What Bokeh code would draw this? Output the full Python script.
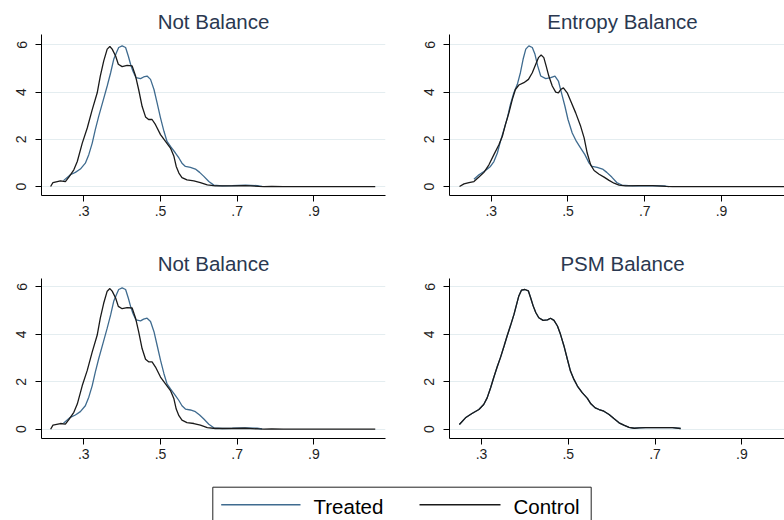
from bokeh.plotting import figure
from bokeh.models import Range1d, FixedTicker
from bokeh.core.properties import value
from bokeh.layouts import column, row
from bokeh.embed import file_html
from bokeh.resources import INLINE

FONT = "Liberation Sans"
TREATED_COLOR = "#3f6b8f"
CONTROL_COLOR = "#1a1a1a"
TITLE_COLOR = "#2a3850"
LABEL_COLOR = "#1e1e1e"
GRID_COLOR = "#e4edf0"

# ---- ticks / labels ----
y_ticks = [0, 2, 4, 6]
x_ticks = [0.3, 0.5, 0.7, 0.9]
x_tick_labels = [".3", ".5", ".7", ".9"]
titles = ["Not Balance", "Entropy Balance", "Not Balance", "PSM Balance"]
legend_labels = ["Treated", "Control"]

# ---- Not Balance: treated ----
nb_treated_x = [0.247, 0.265, 0.278, 0.291, 0.304, 0.313, 0.322, 0.330, 0.339, 0.350,
                0.361, 0.370, 0.378, 0.385, 0.391, 0.400, 0.409, 0.416, 0.422, 0.428,
                0.436, 0.448, 0.456, 0.465, 0.474, 0.483, 0.491, 0.500, 0.509, 0.517,
                0.526, 0.539, 0.548, 0.556, 0.565, 0.578, 0.591, 0.602, 0.613, 0.626,
                0.639, 0.661, 0.687, 0.722, 0.752, 0.765]
nb_treated_y = [0.25, 0.50, 0.60, 0.74, 0.99, 1.35, 1.84, 2.41, 2.98, 3.62,
                4.26, 4.82, 5.39, 5.67, 5.89, 5.96, 5.89, 5.53, 5.18, 4.89,
                4.61, 4.57, 4.64, 4.68, 4.54, 4.11, 3.55, 2.91, 2.34, 1.91,
                1.70, 1.42, 1.21, 0.99, 0.85, 0.81, 0.74, 0.60, 0.43, 0.21,
                0.06, 0.03, 0.04, 0.06, 0.04, 0.01]

# ---- Not Balance: control ----
nb_control_x = [0.2135, 0.2196, 0.239, 0.252, 0.261, 0.274, 0.283, 0.296, 0.309, 0.322,
                0.335, 0.343, 0.352, 0.361, 0.368, 0.374, 0.383, 0.390, 0.400, 0.413,
                0.426, 0.435, 0.443, 0.452, 0.461, 0.469, 0.478, 0.487, 0.500, 0.513,
                0.526, 0.535, 0.541, 0.548, 0.556, 0.569, 0.587, 0.604, 0.622, 0.643,
                0.687, 0.720, 0.756, 0.770, 0.790, 0.820, 1.060]
nb_control_y = [0.00, 0.17, 0.24, 0.21, 0.40, 0.71, 1.06, 1.84, 2.48, 3.26,
                3.97, 4.68, 5.32, 5.82, 5.93, 5.82, 5.53, 5.18, 5.08, 5.13,
                5.11, 4.68, 4.11, 3.40, 2.95, 2.84, 2.84, 2.62, 2.20, 1.91,
                1.63, 1.28, 0.85, 0.57, 0.38, 0.28, 0.24, 0.17, 0.07, 0.03,
                0.03, 0.04, 0.01, 0.00, 0.01, 0.00, 0.00]

# ---- Entropy Balance: treated ----
eb_treated_x = [0.255, 0.268, 0.285, 0.298, 0.307, 0.316, 0.324, 0.333, 0.342, 0.350,
                0.359, 0.368, 0.376, 0.383, 0.390, 0.398, 0.407, 0.414, 0.421, 0.429,
                0.442, 0.455, 0.466, 0.475, 0.483, 0.492, 0.500, 0.511, 0.522, 0.533,
                0.544, 0.555, 0.563, 0.576, 0.590, 0.601, 0.614, 0.627, 0.640, 0.668,
                0.720, 0.750, 0.763]
eb_treated_y = [0.31, 0.50, 0.68, 0.85, 1.06, 1.42, 1.91, 2.41, 2.91, 3.48,
                3.97, 4.33, 4.82, 5.39, 5.82, 5.96, 5.89, 5.60, 5.11, 4.68,
                4.57, 4.61, 4.68, 4.47, 3.97, 3.40, 2.84, 2.27, 1.91, 1.63,
                1.35, 0.99, 0.85, 0.81, 0.74, 0.60, 0.40, 0.17, 0.06, 0.03,
                0.04, 0.03, 0.00]

# ---- Entropy Balance: control ----
eb_control_x = [0.2174, 0.229, 0.242, 0.255, 0.268, 0.281, 0.294, 0.307, 0.320, 0.329,
                0.337, 0.346, 0.355, 0.363, 0.372, 0.385, 0.397, 0.407, 0.416, 0.423,
                0.430, 0.437, 0.443, 0.450, 0.459, 0.468, 0.475, 0.481, 0.488, 0.498,
                0.507, 0.520, 0.533, 0.542, 0.550, 0.559, 0.568, 0.581, 0.594, 0.607,
                0.620, 0.633, 0.650, 0.685, 0.720, 0.755, 0.772, 1.064]
eb_control_y = [0.00, 0.11, 0.17, 0.21, 0.40, 0.60, 0.92, 1.35, 1.77, 2.13,
                2.62, 3.12, 3.69, 4.11, 4.30, 4.40, 4.54, 4.82, 5.18, 5.46,
                5.57, 5.46, 5.11, 4.68, 4.26, 4.00, 3.97, 4.11, 4.18, 3.97,
                3.62, 3.12, 2.55, 2.06, 1.42, 0.92, 0.68, 0.52, 0.40, 0.26,
                0.14, 0.06, 0.03, 0.04, 0.04, 0.01, 0.00, 0.00]

# ---- PSM Balance: treated and control coincide ----
psm_x = [0.249, 0.263, 0.278, 0.294, 0.305, 0.313, 0.321, 0.328, 0.336, 0.344,
         0.352, 0.359, 0.367, 0.375, 0.381, 0.386, 0.392, 0.400, 0.408, 0.413,
         0.419, 0.425, 0.432, 0.442, 0.452, 0.459, 0.467, 0.475, 0.482, 0.490,
         0.498, 0.505, 0.513, 0.521, 0.532, 0.544, 0.552, 0.562, 0.571, 0.582,
         0.594, 0.605, 0.617, 0.628, 0.640, 0.652, 0.663, 0.678, 0.709, 0.740,
         0.759]
psm_treated_y = [0.20, 0.48, 0.66, 0.83, 1.04, 1.32, 1.75, 2.17, 2.62, 3.04,
                 3.51, 3.93, 4.38, 4.85, 5.27, 5.62, 5.86, 5.89, 5.83, 5.55,
                 5.20, 4.92, 4.70, 4.59, 4.61, 4.68, 4.59, 4.35, 4.00, 3.51,
                 2.94, 2.45, 2.10, 1.82, 1.54, 1.30, 1.07, 0.90, 0.83, 0.76,
                 0.62, 0.45, 0.27, 0.17, 0.08, 0.04, 0.06, 0.07, 0.07, 0.07,
                 0.03]
psm_control_y = list(psm_treated_y)


def strip(height):
    """A blank canvas whose data units are its own pixels (for titles / legend)."""
    s = figure(width=784, height=height, x_range=Range1d(0, 784),
               y_range=Range1d(0, height), output_backend="svg",
               toolbar_location=None, min_border=0,
               x_axis_location=None, y_axis_location=None)
    s.outline_line_color = None
    s.grid.visible = False
    s.background_fill_color = "white"
    s.border_fill_color = "white"
    return s


def title_strip(height, texts, centers, y):
    s = strip(height)
    s.text(x=centers, y=[y] * len(texts), text=texts,
           text_font=value(FONT), text_font_size="20.5px",
           text_align="center", text_baseline="middle", text_color=TITLE_COLOR)
    return s


def make_panel(xr, yr, width, height, bl, br, bb):
    p = figure(width=width, height=height,
               x_range=Range1d(*xr), y_range=Range1d(*yr),
               output_backend="svg", toolbar_location=None,
               min_border_left=bl, min_border_right=br,
               min_border_top=0, min_border_bottom=bb)
    p.outline_line_color = None
    p.background_fill_color = "white"
    p.border_fill_color = "white"
    p.xgrid.visible = False
    p.ygrid.ticker = FixedTicker(ticks=y_ticks)
    p.ygrid.grid_line_color = GRID_COLOR
    p.ygrid.grid_line_width = 1
    p.xaxis.ticker = FixedTicker(ticks=x_ticks)
    p.xaxis.major_label_overrides = dict(zip(x_ticks, x_tick_labels))
    p.yaxis.ticker = FixedTicker(ticks=y_ticks)
    p.yaxis.major_label_orientation = "vertical"
    for ax in (p.xaxis[0], p.yaxis[0]):
        ax.axis_line_color = "black"
        ax.axis_line_width = 1
        ax.major_tick_line_color = "black"
        ax.minor_tick_line_color = None
        ax.major_tick_out = 6
        ax.major_tick_in = 0
        ax.major_label_text_font = FONT
        ax.major_label_text_font_size = "14px"
        ax.major_label_text_color = LABEL_COLOR
    p.xaxis.major_label_standoff = 4
    p.yaxis.major_label_standoff = 9
    return p


def add_curves(p, tx, ty, cx, cy):
    p.line(tx, ty, line_color=TREATED_COLOR, line_width=1.3)
    p.line(cx, cy, line_color=CONTROL_COLOR, line_width=1.3)


# ---- top row ----
t1 = title_strip(34, [titles[0], titles[1]], [213, 622], 13)
p1 = make_panel((0.1897, 1.0867), (-0.38, 6.44), 392, 216, 41, 7, 55)
add_curves(p1, nb_treated_x, nb_treated_y, nb_control_x, nb_control_y)
p2 = make_panel((0.1913, 1.064), (-0.38, 6.44), 392, 216, 57, 0, 55)
add_curves(p2, eb_treated_x, eb_treated_y, eb_control_x, eb_control_y)

# ---- bottom row ----
t2 = title_strip(28, [titles[2], titles[3]], [213, 622], 15.3)
p3 = make_panel((0.1897, 1.0867), (-0.392, 6.354), 392, 192, 41, 7, 32)
add_curves(p3, nb_treated_x, nb_treated_y, nb_control_x, nb_control_y)
p4 = make_panel((0.2262, 0.9983), (-0.392, 6.354), 392, 192, 57, 0, 32)
add_curves(p4, psm_x, psm_treated_y, psm_x, psm_control_y)

# ---- legend strip ----
leg = strip(50)
leg.line(x=[212.3, 212.3, 590.7, 590.7], y=[-5, 33.3, 33.3, -5],
         line_color="#222222", line_width=1)
leg.line(x=[220.7, 300.0], y=[15.7, 15.7], line_color=TREATED_COLOR, line_width=1.4)
leg.line(x=[419.0, 500.0], y=[15.7, 15.7], line_color=CONTROL_COLOR, line_width=1.4)
leg.text(x=[313.0, 513.0], y=[14.5, 14.5], text=legend_labels,
         text_font=value(FONT), text_font_size="20.5px",
         text_baseline="middle", text_align="left", text_color="black")

layout = column(t1, row(p1, p2), t2, row(p3, p4), leg)
open("out.html", "w").write(file_html(layout, INLINE))
